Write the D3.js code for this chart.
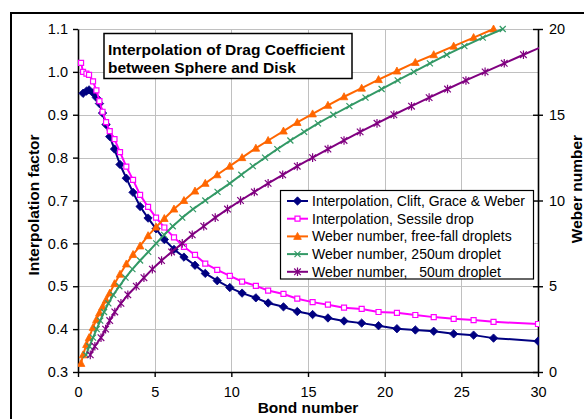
<!DOCTYPE html>
<html>
<head>
<meta charset="utf-8">
<script src="https://cdn.jsdelivr.net/npm/d3@7"></script>
<style>
  html, body { margin: 0; padding: 0; background: #fff; }
  svg { display: block; font-family: "Liberation Sans", Arial, sans-serif; }
</style>
</head>
<body>
<svg id="chart" width="584" height="419"></svg>
<script>
// Bond numbers at which the drag interpolation factors are evaluated
const bondInterp = [0.20, 0.33, 0.55, 0.72, 0.98, 1.20, 1.40, 1.60, 1.83, 2.07,
  2.38, 2.74, 3.15, 3.59, 4.05, 4.57, 5.09, 5.63, 6.26, 6.91,
  7.63, 8.30, 9.08, 9.90, 10.70, 11.60, 12.40, 13.40, 14.30, 15.30,
  16.30, 17.35, 18.50, 19.60, 20.80, 22.00, 23.20, 24.50, 25.80, 27.10, 30.00];

// Interpolation factor, Clift, Grace & Weber (no value at the first Bond number)
const dragClift = [null, 0.950, 0.955, 0.958, 0.951, 0.940, 0.926, 0.904, 0.877, 0.849,
  0.820, 0.784, 0.752, 0.719, 0.686, 0.659, 0.634, 0.609, 0.586, 0.568,
  0.549, 0.530, 0.513, 0.497, 0.484, 0.473, 0.461, 0.452, 0.441, 0.434,
  0.426, 0.419, 0.414, 0.408, 0.401, 0.398, 0.395, 0.389, 0.386, 0.379, 0.372];

// Interpolation factor, sessile drop
const dragSessile = [1.021, 1.000, 0.996, 0.993, 0.978, 0.957, 0.932, 0.907, 0.883, 0.862,
  0.843, 0.813, 0.779, 0.748, 0.713, 0.685, 0.660, 0.637, 0.614, 0.592,
  0.573, 0.553, 0.538, 0.524, 0.511, 0.501, 0.490, 0.482, 0.471, 0.463,
  0.457, 0.450, 0.447, 0.440, 0.438, 0.433, 0.428, 0.424, 0.421, 0.417, 0.412];

// Weber number of free-falling droplets
const bondFreeFall = [0.20, 0.33, 0.55, 0.72, 0.98, 1.20, 1.40, 1.60, 1.83, 2.07,
  2.38, 2.74, 3.15, 3.59, 4.05, 4.57, 5.09, 5.63, 6.26, 6.91,
  7.63, 8.30, 9.08, 9.90, 10.70, 11.60, 12.40, 13.40, 14.30, 15.30,
  16.30, 17.35, 18.50, 19.60, 20.80, 22.00, 23.20, 24.50, 25.80, 27.10];
const weberFreeFall = [0.5, 1.0, 1.6, 2.0, 2.6, 3.05, 3.45, 3.8, 4.2, 4.6,
  5.15, 5.7, 6.3, 6.85, 7.35, 7.95, 8.45, 8.95, 9.5, 10.0,
  10.55, 11.0, 11.5, 12.0, 12.5, 13.05, 13.5, 14.05, 14.55, 15.05,
  15.55, 16.05, 16.55, 17.05, 17.55, 18.05, 18.5, 19.0, 19.5, 20.0];

// Weber number, 250 um droplet
const bond250 = [0.52, 0.74, 0.98, 1.22, 1.45, 1.70, 1.98, 2.30, 2.70, 3.10,
  3.55, 4.05, 4.58, 5.10, 5.62, 6.18, 6.80, 7.50, 8.30, 9.10,
  9.90, 10.65, 11.40, 12.20, 13.00, 13.85, 14.75, 15.65, 16.65, 17.70,
  18.75, 19.80, 20.85, 21.90, 22.95, 24.05, 25.20, 26.40, 27.70];
const weber250 = [1.0, 1.5, 2.0, 2.5, 3.0, 3.5, 4.0, 4.5, 5.0, 5.5,
  6.0, 6.5, 7.0, 7.5, 8.0, 8.5, 9.0, 9.5, 10.0, 10.5,
  11.0, 11.5, 12.0, 12.5, 13.0, 13.5, 14.0, 14.5, 15.0, 15.5,
  16.0, 16.5, 17.0, 17.5, 18.0, 18.5, 19.0, 19.5, 20.0];

// Weber number, 50 um droplet
const bond50 = [0.80, 1.10, 1.50, 1.80, 2.07, 2.40, 2.80, 3.25, 3.80, 4.30,
  4.85, 5.45, 6.10, 6.80, 7.45, 8.20, 8.95, 9.75, 10.60, 11.50,
  12.40, 13.35, 14.30, 15.30, 16.30, 17.35, 18.40, 19.50, 20.60, 21.75,
  22.90, 24.10, 25.30, 26.55, 27.80, 29.05, 30.35];
const weber50 = [1.0, 1.5, 2.0, 2.5, 3.0, 3.5, 4.0, 4.5, 5.0, 5.5,
  6.0, 6.5, 7.0, 7.5, 8.0, 8.5, 9.0, 9.5, 10.0, 10.5,
  11.0, 11.5, 12.0, 12.5, 13.0, 13.5, 14.0, 14.5, 15.0, 15.5,
  16.0, 16.5, 17.0, 17.5, 18.0, 18.5, 19.0];

// Axis ticks
const bondTicks = [0, 5, 10, 15, 20, 25, 30];
const factorTicks = [0.3, 0.4, 0.5, 0.6, 0.7, 0.8, 0.9, 1.0, 1.1];
const weberTicks = [0, 5, 10, 15, 20];

const legendLabels = [
  "Interpolation, Clift, Grace & Weber",
  "Interpolation, Sessile drop",
  "Weber number, free-fall droplets",
  "Weber number, 250um droplet",
  "Weber number,   50um droplet"
];

// ---- layout ----
const plot = { left: 78, right: 538, top: 29, bottom: 372 };
const svg = d3.select("#chart");

const x = d3.scaleLinear().domain([0, 30]).range([plot.left, plot.right]);
const yL = d3.scaleLinear().domain([0.3, 1.1]).range([plot.bottom, plot.top]);
const yR = d3.scaleLinear().domain([0, 20]).range([plot.bottom, plot.top]);

// chart frame
svg.append("rect")
  .attr("x", 11).attr("y", 13).attr("width", 600).attr("height", 420)
  .attr("fill", "#fff").attr("stroke", "#000").attr("stroke-width", 2);

// gridlines
const grid = svg.append("g").attr("stroke", "#c0c0c0").attr("stroke-width", 1);
grid.selectAll("line.h").data(factorTicks.slice(1)).join("line")
  .attr("x1", plot.left).attr("x2", plot.right)
  .attr("y1", d => Math.round(yL(d)) + 0.5).attr("y2", d => Math.round(yL(d)) + 0.5);
grid.selectAll("line.v").data(bondTicks.slice(1, -1)).join("line")
  .attr("y1", plot.top).attr("y2", plot.bottom)
  .attr("x1", d => Math.round(x(d)) + 0.5).attr("x2", d => Math.round(x(d)) + 0.5);

// axes
const tickFont = "14.5px";
const leftAxis = svg.append("g").attr("transform", `translate(${plot.left},0)`)
  .call(d3.axisLeft(yL).tickValues(factorTicks).tickFormat(d3.format(".1f")).tickSize(5).tickSizeOuter(0).tickPadding(5));
const bottomAxis = svg.append("g").attr("transform", `translate(0,${plot.bottom})`)
  .call(d3.axisBottom(x).tickValues(bondTicks).tickFormat(d3.format("d")).tickSize(5).tickSizeOuter(0).tickPadding(10));
const rightAxis = svg.append("g").attr("transform", `translate(${plot.right},0)`)
  .call(d3.axisRight(yR).tickValues(weberTicks).tickFormat(d3.format("d")).tickSize(5).tickSizeOuter(0).tickPadding(6));
rightAxis.selectAll(".tick line").attr("x1", -5);

[leftAxis, bottomAxis, rightAxis].forEach(g => {
  g.select(".domain").attr("stroke", "#000").attr("stroke-width", 1.6);
  g.selectAll(".tick line").attr("stroke", "#000").attr("stroke-width", 1.4);
  g.selectAll(".tick text").attr("fill", "#000")
    .style("font-size", tickFont).style("font-family", "'Liberation Sans', Arial, sans-serif");
});

// axis titles
const titleStyle = sel => sel.style("font-size", "15.5px").style("font-weight", "bold").attr("fill", "#000");
svg.append("text").call(titleStyle)
  .attr("text-anchor", "middle")
  .attr("transform", `translate(39,205) rotate(-90)`)
  .text("Interpolation factor");
svg.append("text").call(titleStyle)
  .attr("text-anchor", "middle")
  .attr("transform", `translate(582,189) rotate(-90)`)
  .text("Weber number");
svg.append("text").call(titleStyle)
  .attr("text-anchor", "middle")
  .attr("x", 308).attr("y", 413)
  .text("Bond number");

// ---- series ----
const markers = {
  diamond: "M0,-4.2L4.2,0L0,4.2L-4.2,0Z",
  square: "M-2.5,-2.5H2.5V2.5H-2.5Z",
  triangle: "M0,-4L3.8,3L-3.8,3Z",
  cross: "M-3,-3L3,3M-3,3L3,-3",
  star: "M-3.3,-3.3L3.3,3.3M-3.3,3.3L3.3,-3.3M0,-4.3V4.3"
};

const series = [
  { xs: bondInterp, ys: dragClift, scale: yL, color: "#000080", marker: "diamond", fill: "#000080" },
  { xs: bondInterp, ys: dragSessile, scale: yL, color: "#FF00FF", marker: "square", fill: "#fff" },
  { xs: bondFreeFall, ys: weberFreeFall, scale: yR, color: "#FF6600", marker: "triangle", fill: "#FF6600" },
  { xs: bond250, ys: weber250, scale: yR, color: "#339966", marker: "cross", fill: "none" },
  { xs: bond50, ys: weber50, scale: yR, color: "#800080", marker: "star", fill: "none" }
];

svg.append("clipPath").attr("id", "plotClip")
  .append("rect").attr("x", plot.left).attr("y", plot.top - 6)
  .attr("width", plot.right - plot.left + 1).attr("height", plot.bottom - plot.top + 6);

const plotArea = svg.append("g").attr("clip-path", "url(#plotClip)");

series.forEach(s => {
  const pts = s.xs.map((b, i) => [b, s.ys[i]]).filter(p => p[1] != null);
  const line = d3.line().x(p => x(p[0])).y(p => s.scale(p[1]));
  const g = plotArea.append("g");
  g.append("path").datum(pts).attr("d", line)
    .attr("fill", "none").attr("stroke", s.color).attr("stroke-width", 2)
    .attr("stroke-linejoin", "round");
  g.selectAll("path.m").data(pts).join("path")
    .attr("class", "m")
    .attr("transform", p => `translate(${x(p[0])},${s.scale(p[1])})`)
    .attr("d", markers[s.marker])
    .attr("fill", s.fill).attr("stroke", s.color)
    .attr("stroke-width", s.marker === "diamond" || s.marker === "triangle" ? 0.8 : 1.2);
});

// ---- chart title box ----
const titleBox = svg.append("g");
titleBox.append("rect")
  .attr("x", 104).attr("y", 33.5).attr("width", 248).attr("height", 45)
  .attr("fill", "#fff").attr("stroke", "#000").attr("stroke-width", 1.5);
titleBox.append("text").call(titleStyle).attr("x", 108).attr("y", 55)
  .text("Interpolation of Drag Coefficient");
titleBox.append("text").call(titleStyle).attr("x", 108).attr("y", 73)
  .text("between Sphere and Disk");

// ---- legend ----
const legend = svg.append("g");
legend.append("rect")
  .attr("x", 280.5).attr("y", 190.5).attr("width", 253).attr("height", 88.5)
  .attr("fill", "#fff").attr("stroke", "#000").attr("stroke-width", 1.2);
const rows = legend.selectAll("g.row").data(series).join("g")
  .attr("transform", (d, i) => `translate(0,${201 + i * 17.7})`);
rows.append("line").attr("x1", 287).attr("x2", 308).attr("y1", 0).attr("y2", 0)
  .attr("stroke", d => d.color).attr("stroke-width", 2);
rows.append("path").attr("transform", "translate(297.5,0)")
  .attr("d", d => markers[d.marker])
  .attr("fill", d => d.fill).attr("stroke", d => d.color)
  .attr("stroke-width", d => d.marker === "diamond" || d.marker === "triangle" ? 0.8 : 1.2);
rows.append("text").attr("x", 312).attr("y", 5)
  .style("font-size", "14px").style("white-space", "pre").attr("fill", "#000")
  .text((d, i) => legendLabels[i]);
</script>
</body>
</html>
